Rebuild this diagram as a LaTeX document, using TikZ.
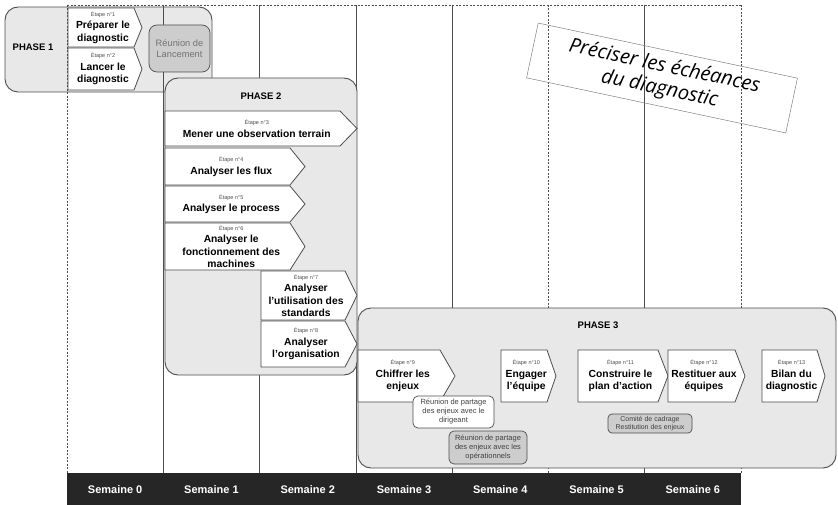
\documentclass[tikz,border=0pt]{standalone}
\usepackage{fontspec}
\setmainfont{Liberation Sans}
\newfontfamily\notefont{Open Sans}

\definecolor{fondphase}{HTML}{E8E8E8}
\definecolor{fondreunion}{HTML}{CDCDCD}
\definecolor{trait}{HTML}{4D4D4D}
\definecolor{barre}{HTML}{262626}

\newcommand\petit{\fontsize{5.5}{7}\selectfont\mdseries}
\newcommand\gras{\fontsize{10.3}{12.5}\selectfont\bfseries}
\newcommand\etiq[2]{{\petit\color{trait}Étape n°#1}\\#2}
% nom, gauche, haut, droite, bas, pointe, texte
\newcommand\etape[7]{%
  \draw[etapebord] (#2,#3) -- (#4,#3) -- (#6,{(#3+#5)/2}) -- (#4,#5) -- (#2,#5) -- cycle;
  \node[etapetexte] (#1) at ({(2*#2+#4+#6)/4},{(#3+#5)/2}) {#7};
}

\begin{document}
\begin{tikzpicture}[x=1pt,y=-1pt,
    phase/.style={draw=trait,line width=0.9pt,fill=fondphase,rounded corners=13pt},
    titrephase/.style={font=\fontsize{9.5}{11}\selectfont\bfseries},
    etapebord/.style={draw=trait,line width=0.8pt,fill=white},
    etapetexte/.style={align=center,inner sep=0pt,font=\gras},
    reunion/.style={draw=trait,line width=0.7pt,rounded corners=5pt,align=center,
      inner sep=1pt,text=black!75,font=\fontsize{7.5}{9}\selectfont},
    grille/.style={draw=trait,line width=0.6pt},
    pointille/.style={dash pattern=on 2pt off 1.5pt},
    semaine/.style={text=white,font=\fontsize{11}{13}\selectfont\bfseries}]

\useasboundingbox (0,0) rectangle (838,505);

% phase 1
\draw[phase] (5,7) rectangle (212,92);
\node[titrephase] (p1) at (33,47) {PHASE 1};

% grille des semaines
\draw[grille,pointille] (67,5) -- (741,5);
\foreach \i/\t in {0/pointille,1/solid,2/solid,3/solid,4/solid,5/pointille,6/solid,7/pointille}
  \draw[grille,\t] ({67+96.286*\i},5) -- ({67+96.286*\i},473);

% phase 2 et 3
\draw[phase] (165,78) rectangle (357,375);
\node[titrephase] (p2) at (261,96) {PHASE 2};
\draw[phase] (358,308) rectangle (836,468);
\node[titrephase] (p3) at (598,325) {PHASE 3};

% etapes
\etape{e1}{68}{8}{134}{47}{142}{\etiq{1}{Préparer le\\diagnostic}}
\etape{e2}{68}{48}{134}{90}{142}{\etiq{2}{Lancer le\\diagnostic}}
\etape{e3}{165}{111}{340}{146}{357}{\etiq{3}{Mener une observation terrain}}
\etape{e4}{165}{148}{290}{185}{305}{\etiq{4}{Analyser les flux}}
\etape{e5}{165}{186}{290}{222}{305}{\etiq{5}{Analyser le process}}
\etape{e6}{165}{223}{290}{270}{305}{\etiq{6}{Analyser le\\fonctionnement des\\machines}}
\etape{e7}{261}{271}{345}{320}{357}{\etiq{7}{Analyser\\l'utilisation des\\standards}}
\etape{e8}{261}{321}{345}{367}{357}{\etiq{8}{Analyser\\l'organisation}}
\etape{e9}{358}{350}{440}{402}{455}{\etiq{9}{Chiffrer les\\enjeux}}
\etape{e10}{501}{350}{547}{402}{556}{\etiq{10}{Engager\\l'équipe}}
\etape{e11}{578}{350}{658}{402}{668}{\etiq{11}{Construire le\\plan d'action}}
\etape{e12}{668}{350}{735}{402}{745}{\etiq{12}{Restituer aux\\équipes}}
\etape{e13}{762}{350}{817}{402}{825}{\etiq{13}{Bilan du\\diagnostic}}

% reunions
\node[reunion,fill=fondreunion,text=black!55,rounded corners=8pt,minimum width=61,minimum height=47,
  font=\fontsize{9.3}{11}\selectfont] (lancement) at (179.5,48.5) {Réunion de\\Lancement};
\node[reunion,fill=white,minimum width=81,minimum height=32] (dirigeant) at (453.5,412)
  {Réunion de partage\\des enjeux avec le\\dirigeant};
\node[reunion,fill=fondreunion,minimum width=78,minimum height=33] (operationnels) at (488,447.5)
  {Réunion de partage\\des enjeux avec les\\opérationnels};
\node[reunion,fill=fondreunion,minimum width=84,minimum height=19,rounded corners=4pt,
  font=\fontsize{7}{8}\selectfont] (comite) at (650,423.5) {Comité de cadrage\\Restitution des enjeux};

% note
\node[draw=gray,line width=0.5pt,rotate=-12,minimum width=265,minimum height=56,align=center,
  text=black,font=\notefont\itshape\fontsize{20}{23}\selectfont] (note) at (662,78)
  {Préciser les échéances\\du diagnostic};

% semaines
\fill[barre] (67,473) rectangle (741,505);
\foreach \i in {0,...,6}
  \node[semaine] (s\i) at ({67+96.286*(\i+0.5)},490) {Semaine \i};
\end{tikzpicture}
\end{document}
